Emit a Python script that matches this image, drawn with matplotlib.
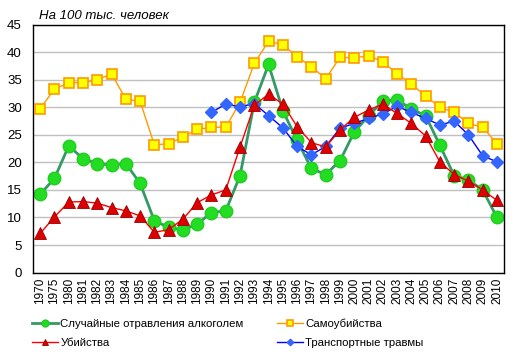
import numpy as np
import matplotlib
matplotlib.use("Agg")
import matplotlib.pyplot as plt

plt.rcParams['font.family'] = ['Liberation Sans', 'DejaVu Sans']

years = ['1970', '1975'] + [str(y) for y in range(1980, 2011)]

# per 100k population
alcohol = [14.2, 17.1, 23.0, 20.7, 19.8, 19.5, 19.8, 16.2, 9.4, 8.2, 7.7, 8.8,
           10.9, 11.2, 17.6, 30.9, 37.8, 29.4, 24.0, 18.9, 17.8, 20.3, 25.5,
           28.5, 31.1, 31.4, 29.7, 28.5, 23.1, 17.6, 16.8, 15.0, 10.0]
suicide = [29.8, 33.3, 34.5, 34.5, 35.0, 36.1, 31.5, 31.1, 23.2, 23.4, 24.6, 26.0,
           26.4, 26.4, 30.9, 38.0, 42.0, 41.4, 39.2, 37.4, 35.2, 39.1, 39.0,
           39.4, 38.3, 36.1, 34.2, 32.1, 30.0, 29.1, 27.1, 26.4, 23.4]
murder = [7.1, 10.1, 12.8, 12.9, 12.6, 11.8, 11.2, 10.3, 7.3, 7.8, 9.7, 12.7,
          14.1, 15.0, 22.8, 30.4, 32.4, 30.6, 26.5, 23.6, 22.8, 25.9, 28.2,
          29.5, 30.6, 28.9, 27.1, 24.8, 20.1, 17.8, 16.6, 15.0, 13.1]
# transport injuries start in 1990
transport = [np.nan] * 12 + [29.1, 30.6, 30.1, 30.7, 28.5, 26.3, 22.9, 21.4, 22.9,
                             26.2, 27.1, 28.0, 28.8, 30.2, 29.1, 28.0, 26.8, 27.5,
                             25.0, 21.2, 20.1]

x = np.arange(len(years))

fig = plt.figure(figsize=(5.16, 3.6), dpi=100)
ax = fig.add_axes([0.064, 0.243, 0.913, 0.688])

ax.plot(x, suicide, color='#FF9900', lw=1, marker='s', ms=7,
        mfc='#FFFF00', mec='#FF9900', mew=1.2, label='Самоубийства', zorder=3)
ax.plot(x, transport, color='#0000FF', lw=1, marker='D', ms=6,
        mfc='#3366FF', mec='#3366FF', label='Транспортные травмы', zorder=4)
ax.plot(x, murder, color='#FF0000', lw=1, marker='^', ms=8,
        mfc='#DD0000', mec='#990000', mew=0.6, label='Убийства', zorder=5)
ax.plot(x, alcohol, color='#339966', lw=2, marker='o', ms=9,
        mfc='#22DD22', mec='#22CC22', label='Случайные отравления алкоголем', zorder=2)

ax.set_xlim(-0.5, len(years) - 0.5)
ax.set_ylim(0, 45)
ax.set_yticks(range(0, 46, 5))
ax.set_xticks(x)
ax.set_xticklabels(years, rotation=90, fontsize=8.5)
ax.tick_params(axis='y', labelsize=9.5, length=0, pad=8)
ax.tick_params(axis='x', length=0, pad=4)
ax.grid(axis='y', color='#C0C0C0', lw=1)
ax.set_axisbelow(True)
for s in ax.spines.values():
    s.set_color('black')
    s.set_linewidth(1)

fig.text(0.075, 0.955, 'На 100 тыс. человек', fontsize=9.5, style='italic',
         ha='left', va='center')

h, l = ax.get_legend_handles_labels()
order = [3, 2, 0, 1]
fig.legend([h[i] for i in order], [l[i] for i in order], ncol=2, frameon=False,
           loc='upper left', bbox_to_anchor=(0.062, 0.116), fontsize=8.2,
           handlelength=2.3, handletextpad=0.2, columnspacing=2.9,
           labelspacing=0.85, borderaxespad=0, borderpad=0, markerscale=0.55)

fig.savefig('out.png', dpi=100)
